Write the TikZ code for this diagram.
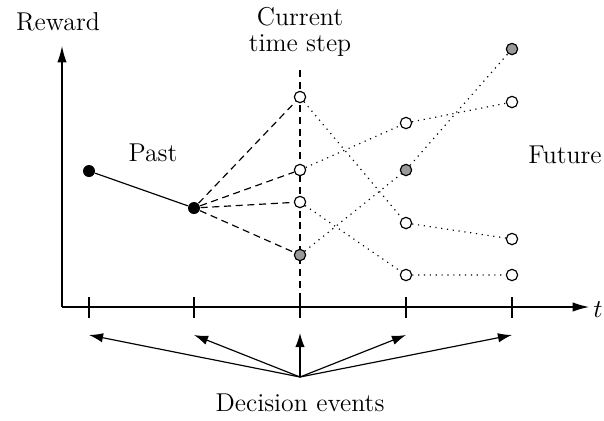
\documentclass[tikz,border=0pt]{standalone}
\usepackage{tikz}
\usetikzlibrary{arrows.meta}
\definecolor{shade}{gray}{0.6}

\begin{document}
\begin{tikzpicture}[x=0.015cm, y=-0.015cm, line width=0.5pt,
    every node/.style={font=\fontsize{11}{11}\selectfont},
    known/.style={circle, fill=black, inner sep=0pt, minimum size=0.18cm},
    open/.style={circle, draw, fill=white, inner sep=0pt, minimum size=0.17cm},
    chosen/.style={circle, draw, fill=shade, inner sep=0pt, minimum size=0.17cm},
    option/.style={dashed, dash pattern=on 3pt off 2pt},
    later/.style={dotted},
    axis/.style={-{Latex[length=7pt, width=4pt]}},
    pointer/.style={-{Latex[length=6pt, width=4pt]}}]
  \useasboundingbox (0,0) rectangle (604,420);
  % Axes
  \coordinate (origin) at (62,307);
  \coordinate (ytop) at (62,46);
  \coordinate (xend) at (589,307);
  \draw[axis] (origin) -- (ytop);
  \draw[axis] (origin) -- (xend);
  \node at (58,22) {Reward};
  \node at (598,310) {$t$};
  % Ticks on the time axis
  \foreach \x in {89,194,300,406,512}
    \draw (\x,297) -- (\x,318);
  % Current time step
  \draw[option] (300,70) -- (300,318);
  \node[align=center] at (300,32) {Current\\time step};
  % Past
  \node[known] (p1) at (89,171) {};
  \node[known] (p2) at (194,208) {};
  \draw (p1) -- (p2);
  \node at (153,153) {Past};
  % Options at the current step
  \node[open] (c1) at (300,97) {};
  \node[open] (c2) at (300,170) {};
  \node[open] (c3) at (300,202) {};
  \node[chosen] (c4) at (300,255) {};
  \foreach \n in {c1,c2,c3,c4}
    \draw[option] (p2) -- (\n);
  % Future
  \node[open] (f1) at (406,123) {};
  \node[chosen] (f2) at (406,170) {};
  \node[open] (f3) at (406,223) {};
  \node[open] (f4) at (406,275) {};
  \node[chosen] (g1) at (512,49) {};
  \node[open] (g2) at (512,102) {};
  \node[open] (g3) at (512,239) {};
  \node[open] (g4) at (512,275) {};
  \draw[later] (c1) -- (f3) -- (g3);
  \draw[later] (c2) -- (f1) -- (g2);
  \draw[later] (c3) -- (f4) -- (g4);
  \draw[later] (c4) -- (f2) -- (g1);
  \node at (565,155) {Future};
  % Decision events
  \coordinate (fan) at (300,377);
  \coordinate (e1) at (89,335);
  \coordinate (e2) at (194,335);
  \coordinate (e3) at (300,333);
  \coordinate (e4) at (406,335);
  \coordinate (e5) at (512,335);
  \foreach \e in {e1,e2,e3,e4,e5}
    \draw[pointer] (fan) -- (\e);
  \node at (300,403) {Decision events};
\end{tikzpicture}
\end{document}
